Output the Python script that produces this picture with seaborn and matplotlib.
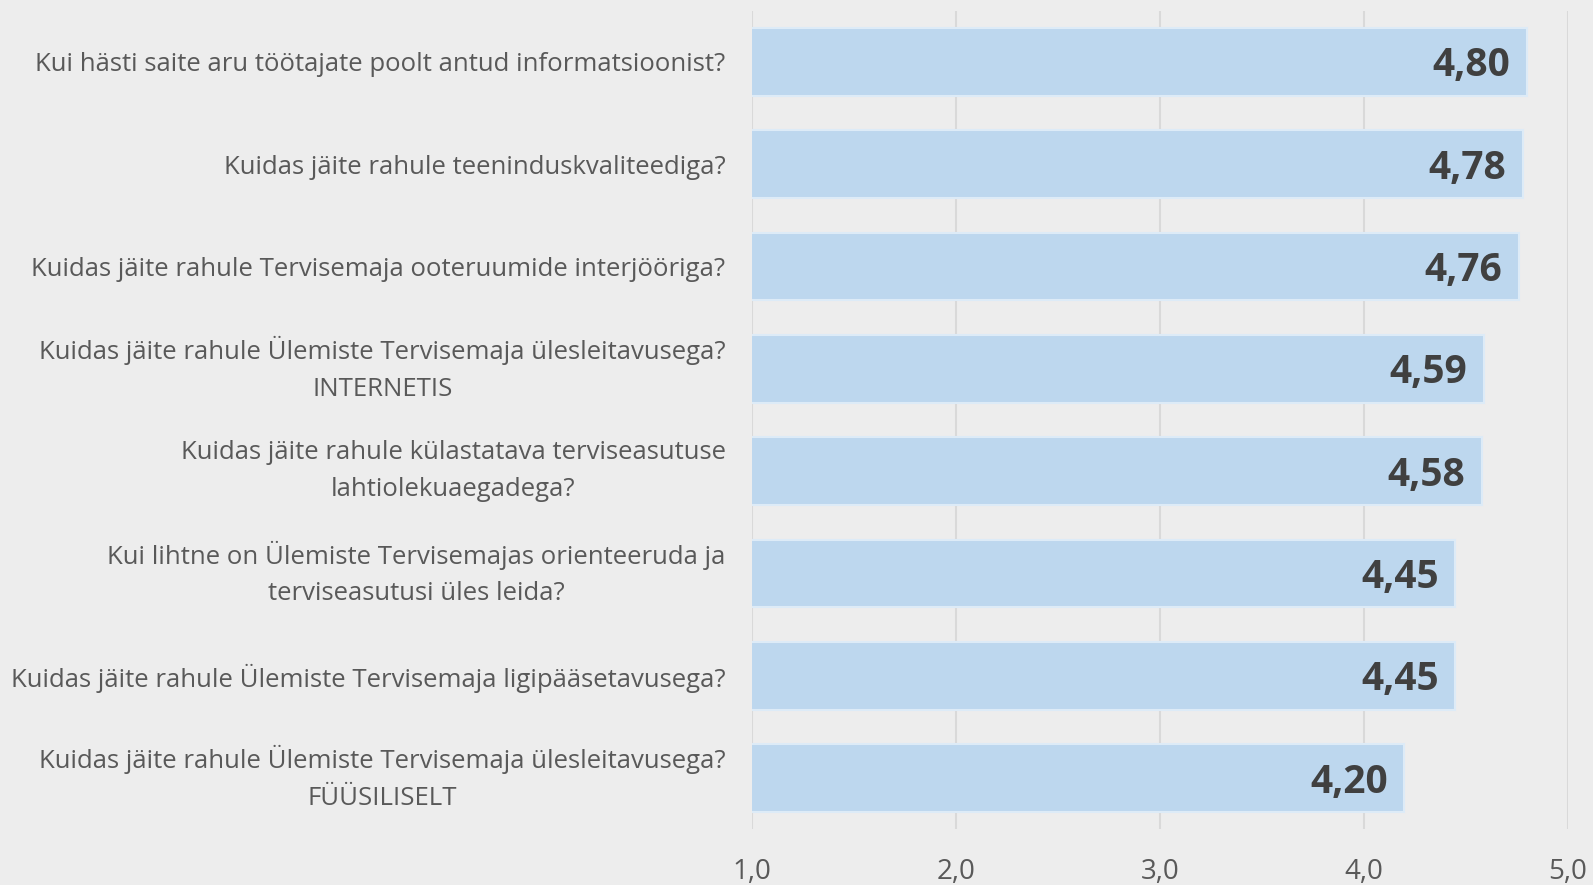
import matplotlib
matplotlib.use("Agg")
import matplotlib.pyplot as plt
import seaborn as sns
import pandas as pd

# küsimused ja keskmised hinded
questions = [
    "Kui hästi saite aru töötajate poolt antud informatsioonist?",
    "Kuidas jäite rahule teeninduskvaliteediga?",
    "Kuidas jäite rahule Tervisemaja ooteruumide interjööriga?",
    "Kuidas jäite rahule Ülemiste Tervisemaja ülesleitavusega?\nINTERNETIS",
    "Kuidas jäite rahule külastatava terviseasutuse\nlahtiolekuaegadega?",
    "Kui lihtne on Ülemiste Tervisemajas orienteeruda ja\nterviseasutusi üles leida?",
    "Kuidas jäite rahule Ülemiste Tervisemaja ligipääsetavusega?",
    "Kuidas jäite rahule Ülemiste Tervisemaja ülesleitavusega?\nFÜÜSILISELT",
]
scores = [4.80, 4.78, 4.76, 4.59, 4.58, 4.45, 4.45, 4.20]
x_ticks = [1.0, 2.0, 3.0, 4.0, 5.0]

df = pd.DataFrame({"kysimus": questions, "hinne": scores})

sns.set_style("white")
plt.rcParams["font.family"] = ["Open Sans", "DejaVu Sans"]

bg = "#EDEDED"
fig = plt.figure(figsize=(15.93, 8.85), dpi=100, facecolor=bg)
ax = fig.add_axes([0.472, 0.063, 0.512, 0.925])
ax.set_facecolor(bg)

sns.barplot(data=df, x="hinne", y="kysimus", orient="h", color="#BDD7EE",
            saturation=1, width=0.66, edgecolor="#DDEBF7", linewidth=1.5, ax=ax)

ax.set_xlim(1.0, 5.0)
ax.set_xticks(x_ticks)
ax.set_xticklabels([f"{t:.1f}".replace(".", ",") for t in x_ticks],
                   fontsize=20, color="#595959")
ax.tick_params(axis="x", length=0, pad=21)
ax.tick_params(axis="y", length=0, pad=19)
for lbl in ax.get_yticklabels():
    lbl.set_fontsize(18.5)
    lbl.set_color("#595959")
    lbl.set_multialignment("center")
    lbl.set_linespacing(1.6)
    # mitmerealised sildid keskele
    if "\n" in lbl.get_text():
        lbl.set_verticalalignment("center")
ax.set_xlabel("")
ax.set_ylabel("")
ax.grid(axis="x", color="#D9D9D9", linewidth=1.5)
ax.set_axisbelow(True)
for s in ax.spines.values():
    s.set_visible(False)

for i, v in enumerate(scores):
    ax.text(v - 0.08, i + 0.04, f"{v:.2f}".replace(".", ","), ha="right", va="center",
            fontsize=28, fontweight="bold", color="#404040")

fig.savefig("out.png", dpi=100, facecolor=bg)
